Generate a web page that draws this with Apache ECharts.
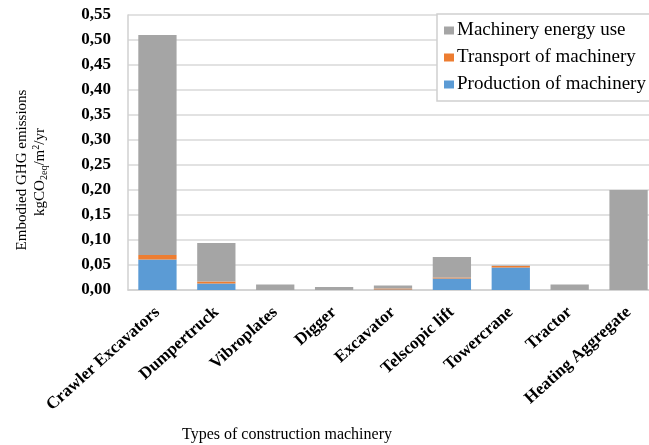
<!DOCTYPE html>
<html><head><meta charset="utf-8">
<script src="https://cdn.jsdelivr.net/npm/echarts@6/dist/echarts.min.js"></script>
<style>html,body{margin:0;padding:0;background:#fff}#c{width:649px;height:445px}</style>
</head><body><div id="c"></div>
<script>
const categories = ["Crawler Excavators","Dumpertruck","Vibroplates","Digger","Excavator","Telscopic lift","Towercrane","Tractor","Heating Aggregate"];
const production = [0.061,0.013,0,0,0.001,0.023,0.045,0,0];
const transport = [0.009,0.004,0,0,0.002,0.002,0.003,0,0];
const energy = [0.440,0.077,0.011,0.006,0.006,0.041,0.001,0.011,0.200];
const yTicks = ["0,00","0,05","0,10","0,15","0,20","0,25","0,30","0,35","0,40","0,45","0,50","0,55"];

const F = "Liberation Serif, Times New Roman, serif";
const chart = echarts.init(document.getElementById('c'));
const barBase = {type:'bar', stack:'s', barCategoryGap:'35%'};
chart.setOption({
  animation:false,
  grid:{left:128, top:15, width:530, height:275, outerBoundsMode:'none', containLabel:false},
  legend:{
    data:['Machinery energy use','Transport of machinery','Production of machinery'],
    orient:'vertical', left:437, top:14, itemWidth:10, itemHeight:8, itemGap:8,
    padding:[7,30,7,7], backgroundColor:'#fff', borderColor:'#d0d0d0', borderWidth:1.5,
    icon:'rect', textStyle:{fontFamily:F, fontSize:19, color:'#000', padding:[0,0,0,-2]}
  },
  xAxis:{
    type:'category', data:categories,
    axisLine:{lineStyle:{color:'#d0d0d0', width:1.5}}, axisTick:{show:false},
    axisLabel:{rotate:42, interval:0, fontFamily:F, fontWeight:'bold', fontSize:17, color:'#000', margin:20}
  },
  yAxis:{
    type:'value', min:0, max:0.55, interval:0.05,
    axisLine:{show:true, lineStyle:{color:'#d0d0d0', width:1.5}},
    splitLine:{lineStyle:{color:'#d9d9d9', width:1.5}},
    axisLabel:{fontFamily:F, fontWeight:'bold', fontSize:17, color:'#000', margin:17,
      formatter:(v)=>yTicks[Math.round(v/0.05)]}
  },
  graphic:[
    {type:'text', x:22, y:170, rotation:Math.PI/2,
      style:{text:'Embodied GHG emissions', font:'15px '+F, fill:'#000', align:'center', verticalAlign:'middle'}},
    {type:'text', x:40, y:172, rotation:Math.PI/2,
      style:{text:'{b|kgCO}{s|2eq}{b|/m}{p|2}{b|/yr}', align:'center', verticalAlign:'middle',
        rich:{
          b:{fontFamily:F, fontSize:15, fill:'#000', lineHeight:20},
          s:{fontFamily:F, fontSize:10, fill:'#000', lineHeight:20, padding:[9,0,0,0]},
          p:{fontFamily:F, fontSize:10, fill:'#000', lineHeight:20, padding:[0,0,8,0]}
        }}},
    {type:'text', x:287, y:435,
      style:{text:'Types of construction machinery', font:'16px '+F, fill:'#000', align:'center', verticalAlign:'middle'}}
  ],
  series:[
    Object.assign({}, barBase, {name:'Production of machinery', data:production, itemStyle:{color:'#5B9BD5'}}),
    Object.assign({}, barBase, {name:'Transport of machinery', data:transport, itemStyle:{color:'#ED7D31'}}),
    Object.assign({}, barBase, {name:'Machinery energy use', data:energy, itemStyle:{color:'#A5A5A5'}})
  ]
});
</script></body></html>
